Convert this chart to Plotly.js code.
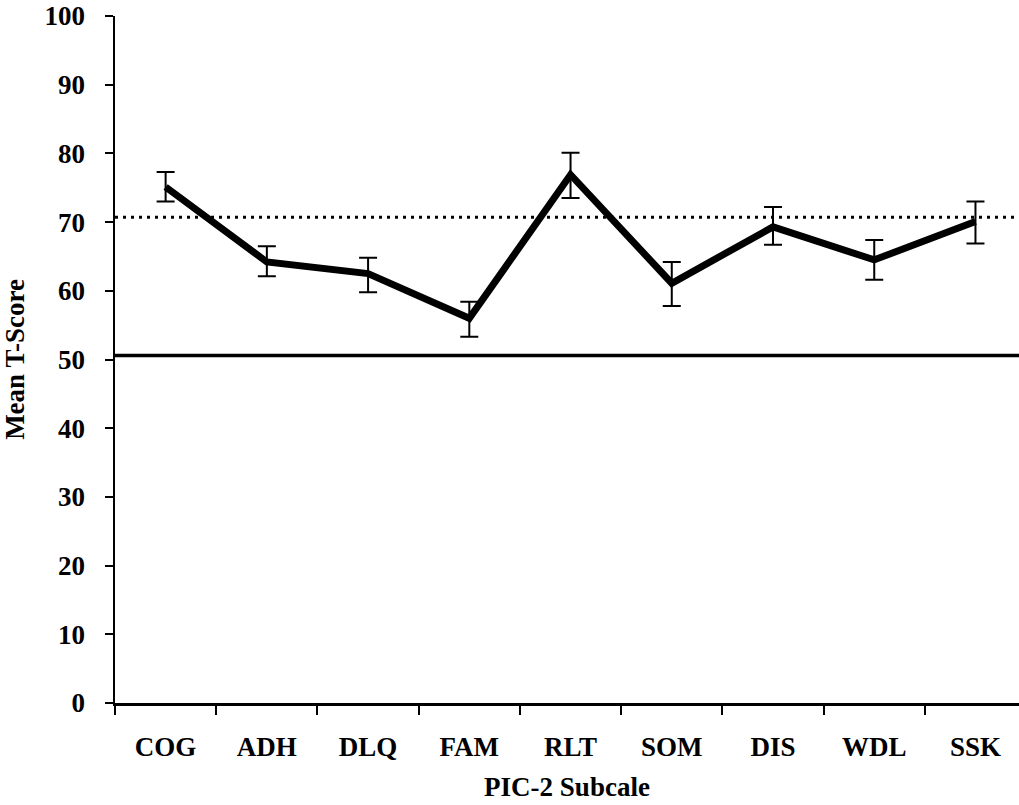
<!DOCTYPE html>
<html>
<head>
<meta charset="utf-8">
<script src="https://cdn.plot.ly/plotly-3.0.1.min.js"></script>
<style>
html, body { margin: 0; padding: 0; background: #fff; overflow: hidden; }
#chart { width: 1019px; height: 805px; }
</style>
</head>
<body>
<div id="chart"></div>
<script>
const categories = ['COG', 'ADH', 'DLQ', 'FAM', 'RLT', 'SOM', 'DIS', 'WDL', 'SSK'];
const meanScores = [75.1, 64.2, 62.5, 56.0, 76.9, 61.1, 69.3, 64.5, 70.1];
const upperBounds = [77.3, 66.5, 64.8, 58.4, 80.1, 64.2, 72.2, 67.4, 73.0];
const lowerBounds = [73.0, 62.1, 59.8, 53.3, 73.5, 57.8, 66.7, 61.6, 66.9];
const clinicalCutoff = 70.7;
const populationMean = 50.6;
const yTickValues = [0, 10, 20, 30, 40, 50, 60, 70, 80, 90, 100];

const errPlus = meanScores.map((m, i) => upperBounds[i] - m);
const errMinus = meanScores.map((m, i) => m - lowerBounds[i]);

const FONT = 'Liberation Serif, Times New Roman, serif';

const trace = {
  type: 'scatter',
  mode: 'lines',
  x: categories,
  y: meanScores,
  line: { color: '#000', width: 7 },
  error_y: {
    type: 'data',
    symmetric: false,
    array: errPlus,
    arrayminus: errMinus,
    color: '#000',
    thickness: 2,
    width: 9
  },
  hoverinfo: 'skip',
  showlegend: false
};

const layout = {
  width: 1019,
  height: 805,
  margin: { l: 115, r: 0, t: 16, b: 102 },
  paper_bgcolor: '#fff',
  plot_bgcolor: '#fff',
  font: { family: FONT, color: '#000', size: 27, weight: 'bold' },
  xaxis: {
    type: 'category',
    range: [-0.5, 8.43],
    automargin: true,
    showgrid: false,
    zeroline: false,
    showline: true,
    linecolor: '#000',
    linewidth: 3,
    ticks: 'outside',
    tickson: 'boundaries',
    ticklen: 9,
    tickwidth: 2,
    tickcolor: '#000',
    ticklabelstandoff: 18,
    tickfont: { family: FONT, size: 27, color: '#000', weight: 'bold' },
    title: { text: 'PIC-2 Subcale', font: { family: FONT, size: 27, color: '#000', weight: 'bold' }, standoff: 16 }
  },
  yaxis: {
    range: [0, 100],
    automargin: true,
    tickmode: 'array',
    tickvals: yTickValues,
    ticktext: yTickValues.map(String),
    showgrid: false,
    zeroline: false,
    showline: true,
    linecolor: '#000',
    linewidth: 2.5,
    ticks: 'outside',
    ticklen: 8,
    tickwidth: 2,
    tickcolor: '#000',
    ticklabelstandoff: 14,
    tickfont: { family: FONT, size: 27, color: '#000', weight: 'bold' },
    title: { text: 'Mean T-Score', font: { family: FONT, size: 27, color: '#000', weight: 'bold' }, standoff: 22 }
  },
  shapes: [
    {
      type: 'line', xref: 'paper', yref: 'y',
      x0: 0, x1: 1, y0: clinicalCutoff, y1: clinicalCutoff,
      line: { color: '#000', width: 3, dash: '3px,5px' },
      layer: 'below'
    },
    {
      type: 'line', xref: 'paper', yref: 'y',
      x0: 0, x1: 1, y0: populationMean, y1: populationMean,
      line: { color: '#000', width: 3.5 },
      layer: 'below'
    }
  ]
};

Plotly.newPlot('chart', [trace], layout, { displayModeBar: false, staticPlot: true });
</script>
</body>
</html>
